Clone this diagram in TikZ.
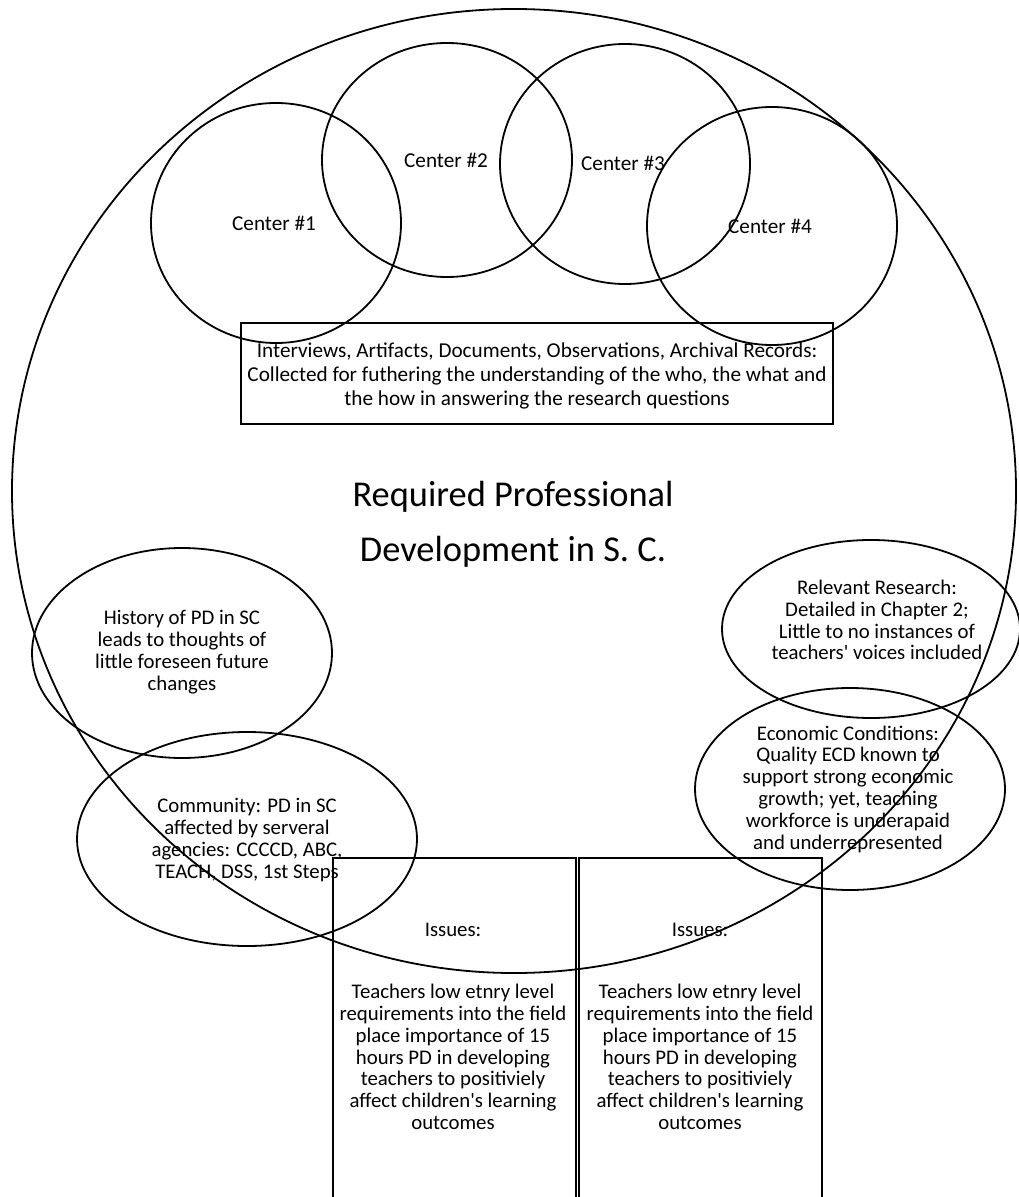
\documentclass[tikz,border=0pt]{standalone}
\usepackage{fontspec}
\setmainfont{Carlito}
\usetikzlibrary{shapes.geometric}
\begin{document}
\begin{tikzpicture}[x=0.5pt,y=-0.5pt, line width=0.9pt,
  ell/.style={draw, ellipse, inner sep=0pt},
  box/.style={draw, rectangle, inner sep=0pt},
  txt/.style={align=center, inner sep=0pt, font=\fontsize{10.4}{10.9}\selectfont},
  ctxt/.style={inner sep=0pt, font=\fontsize{10.6}{11}\selectfont},
  rtxt/.style={align=center, inner sep=0pt, font=\fontsize{10.6}{12.2}\selectfont},
  bigtxt/.style={align=center, inner sep=0pt, font=\fontsize{18.2}{27.5}\selectfont}]
\useasboundingbox (0,0) rectangle (1018,1197);
% outer ellipse
\node[ell, minimum width=502pt, minimum height=482pt] (outer) at (514,491) {};
% centers
\node[ell, minimum width=125pt, minimum height=120pt] (c1) at (276,223) {};
\node[ell, minimum width=125pt, minimum height=117pt] (c2) at (447,160) {};
\node[ell, minimum width=125pt, minimum height=120pt] (c3) at (625,164) {};
\node[ell, minimum width=125pt, minimum height=119pt] (c4) at (772,226) {};
\node[ctxt] (c1t) at (274,223) {Center \#1};
\node[ctxt] (c2t) at (446,160) {Center \#2};
\node[ctxt] (c3t) at (623,163) {Center \#3};
\node[ctxt] (c4t) at (770,226) {Center \#4};
% data box
\node[box, minimum width=296pt, minimum height=50.5pt] (data) at (537,373.5) {};
\node[rtxt] (datat) at (537,376) {Interviews, Artifacts, Documents, Observations, Archival Records:\\Collected for futhering the understanding of the who, the what and\\the how in answering the research questions};
% title
\node[bigtxt] (title) at (513,524) {Required Professional\\Development in S. C.};
% side ellipses
\node[ell, minimum width=150pt, minimum height=105pt] (hist) at (182,653) {};
\node[txt] (histt) at (182,652) {History of PD in SC\\leads to thoughts of\\little foreseen future\\changes};
\node[ell, minimum width=170pt, minimum height=107pt] (comm) at (247,839) {};
\node[txt] (commt) at (247,840) {Community: PD in SC\\affected by serveral\\agencies: CCCCD, ABC,\\TEACH, DSS, 1st Steps};
\node[ell, minimum width=149pt, minimum height=89pt] (rel) at (871,629) {};
\node[txt] (relt) at (877,620) {Relevant Research:\\Detailed in Chapter 2;\\Little to no instances of\\teachers\textquotesingle{} voices included};
\node[ell, minimum width=155pt, minimum height=101pt] (eco) at (850,789) {};
\node[txt] (ecot) at (848,789) {Economic Conditions:\\Quality ECD known to\\support strong economic\\growth; yet, teaching\\workforce is underapaid\\and underrepresented};
% issues boxes
\node[box, minimum width=121.5pt, minimum height=172pt, anchor=north west] (iss1) at (332,857) {};
\node[box, minimum width=121.5pt, minimum height=172pt, anchor=north west] (iss2) at (578,857) {};
\node[txt] (iss1h) at (453,930) {Issues:};
\node[txt] (iss2h) at (700,930) {Issues:};
\node[txt] (iss1t) at (453,1057) {Teachers low etnry level\\requirements into the field\\place importance of 15\\hours PD in developing\\teachers to positiviely\\affect children\textquotesingle s learning\\outcomes};
\node[txt] (iss2t) at (700,1057) {Teachers low etnry level\\requirements into the field\\place importance of 15\\hours PD in developing\\teachers to positiviely\\affect children\textquotesingle s learning\\outcomes};
\end{tikzpicture}
\end{document}
